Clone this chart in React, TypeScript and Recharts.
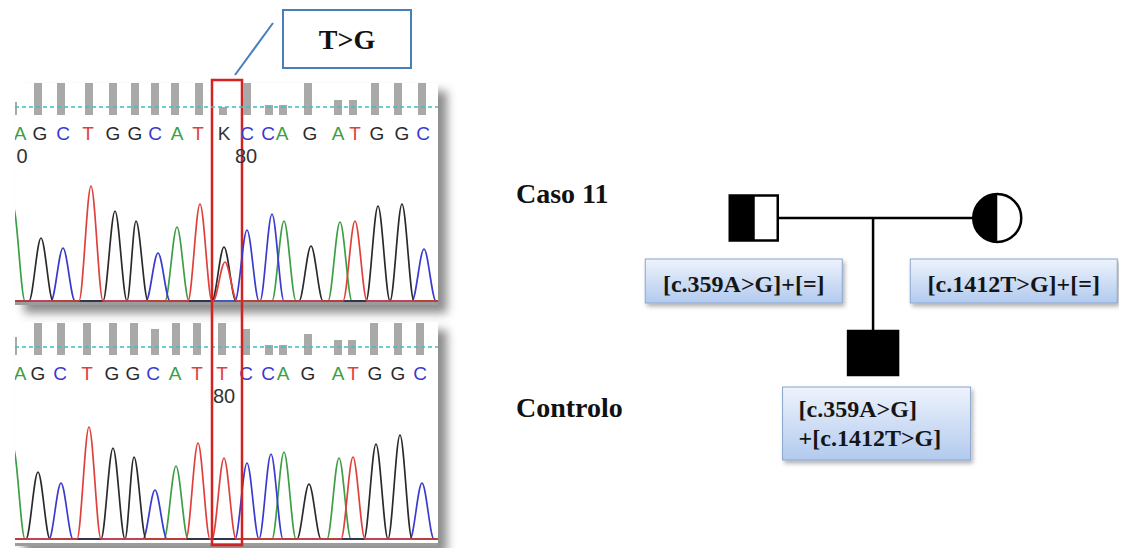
import React from 'react';
import { ComposedChart, Line, Bar, Scatter, XAxis, YAxis, ReferenceLine, ReferenceArea } from 'recharts';

const W = 1130;
const H = 548;
const SERIF = '"Liberation Serif", "Times New Roman", serif';
const SANS = '"Liberation Sans", Arial, sans-serif';

// read position (scan units) range shown in both electropherograms
const X_MIN = 15;
const X_MAX = 438;

// base calls
const casoBases = 'AGCTGGCATKCCAGATGGC'.split('');
const casoBasePos = [20, 40, 63, 88, 113, 135, 155, 177, 198, 224, 247, 268, 282, 310, 338, 355, 377, 402, 423];
const ctrlBases = 'AGCTGGCATTCCAGATGGC'.split('');
const ctrlBasePos = [20, 38, 60, 87, 112, 133, 153, 175, 197, 222, 246, 268, 283, 308, 338, 353, 375, 398, 420];

// quality bars
const casoQualPos = [13, 38, 61, 89, 113, 135, 155, 175, 199, 223, 247, 269, 283, 308, 338, 353, 375, 398, 422];
const casoQual = [13, 32, 32, 32, 32, 32, 32, 32, 32, 8, 32, 10, 10, 32, 15, 15, 32, 32, 32];
const ctrlQualPos = [13, 38, 61, 87, 113, 134, 155, 176, 197, 222, 246, 269, 283, 308, 338, 352, 374, 398, 420];
const ctrlQual = [18, 32, 32, 32, 32, 32, 26, 32, 32, 32, 26, 10, 10, 21, 15, 15, 32, 32, 32];

// base position ruler
const casoMarks = [{ pos: 22, label: '0' }, { pos: 246, label: '80' }];
const ctrlMarks = [{ pos: 224, label: '80' }];

type Peak = { pos: number; h: number };

// peaks per dye, Caso 11
const casoA: Peak[] = [{ pos: 13, h: 95 }, { pos: 177, h: 74 }, { pos: 284, h: 80 }, { pos: 340, h: 79 }];
const casoC: Peak[] = [{ pos: 63, h: 53 }, { pos: 158, h: 48 }, { pos: 247, h: 71 }, { pos: 272, h: 87 }, { pos: 424, h: 52 }];
const casoG: Peak[] = [{ pos: 41, h: 63 }, { pos: 115, h: 90 }, { pos: 136, h: 80 }, { pos: 224, h: 54 }, { pos: 311, h: 55 }, { pos: 378, h: 95 }, { pos: 402, h: 97 }];
const casoT: Peak[] = [{ pos: 91, h: 115 }, { pos: 200, h: 97 }, { pos: 225, h: 39 }, { pos: 355, h: 80 }];

// peaks per dye, Controlo
const ctrlA: Peak[] = [{ pos: 13, h: 92 }, { pos: 176, h: 73 }, { pos: 284, h: 87 }, { pos: 339, h: 81 }];
const ctrlC: Peak[] = [{ pos: 61, h: 56 }, { pos: 155, h: 49 }, { pos: 247, h: 76 }, { pos: 271, h: 85 }, { pos: 422, h: 56 }];
const ctrlG: Peak[] = [{ pos: 38, h: 67 }, { pos: 113, h: 91 }, { pos: 134, h: 82 }, { pos: 309, h: 55 }, { pos: 376, h: 95 }, { pos: 400, h: 104 }];
const ctrlT: Peak[] = [{ pos: 89, h: 112 }, { pos: 198, h: 96 }, { pos: 224, h: 81 }, { pos: 353, h: 82 }];

// pedigree
const members = [
  { id: 'father', sex: 'M', status: 'carrier', x: 0, gen: 1, label: ['[c.359A>G]+[=]'] },
  { id: 'mother', sex: 'F', status: 'carrier', x: 2, gen: 1, label: ['[c.1412T>G]+[=]'] },
  { id: 'child', sex: 'M', status: 'affected', x: 0.98, gen: 2, label: ['[c.359A>G]', '+[c.1412T>G]'] },
];
const marriage = [{ x: 0, gen: 1 }, { x: 2, gen: 1 }];
const descent = [{ x: 0.98, gen: 1 }, { x: 0.98, gen: 2 }];

const DYE: Record<string, string> = { A: '#3d9e45', C: '#3a3ad0', G: '#2a2a2a', T: '#e0403c', K: '#333333' };
const HALF = 12;
const LETTER_ROW = -18;
const NUM_ROW = -41;

const BOX: Record<string, { dx: number; dy: number; w: number; h: number; align: 'middle' | 'start' }> = {
  father: { dx: -10, dy: 63, w: 197, h: 44, align: 'middle' },
  mother: { dx: 16.5, dy: 63, w: 207, h: 44, align: 'middle' },
  child: { dx: 3.5, dy: 70.5, w: 188, h: 73, align: 'start' },
};

function tracePoints(peaks: Peak[]) {
  const pts = [{ pos: X_MIN - 20, v: 0 }];
  peaks.forEach((p) => {
    const last = pts[pts.length - 1].pos;
    if (p.pos - HALF > last) pts.push({ pos: p.pos - HALF, v: 0 });
    pts.push({ pos: p.pos, v: p.h });
    pts.push({ pos: p.pos + HALF, v: 0 });
  });
  pts.push({ pos: X_MAX + 20, v: 0 });
  return pts;
}

const letterShape = (p: any) => (
  <text x={p.cx} y={p.cy} textAnchor="middle" dominantBaseline="central" fontFamily={SANS} fontSize={19} fill={DYE[p.payload.base]}>
    {p.payload.base}
  </text>
);
const markShape = (p: any) => (
  <text x={p.cx} y={p.cy} textAnchor="middle" dominantBaseline="central" fontFamily={SANS} fontSize={20} fill="#333">
    {p.payload.label}
  </text>
);
const qualShape = (p: any) => (
  <rect x={p.x + p.width / 2 - 4} y={p.y} width={8} height={Math.max(0, p.height)} fill="#a9a9a9" />
);

function traceLines(set: Record<string, Peak[]>) {
  return ['A', 'C', 'G', 'T'].map((b) => (
    <Line key={b} yAxisId="t" data={tracePoints(set[b])} dataKey="v" type="monotone" stroke={DYE[b]} strokeWidth={1.7} dot={false} isAnimationActive={false} />
  ));
}

function Electro(props: {
  width: number; height: number; tDomain: [number, number]; qDomain: [number, number];
  qualPos: number[]; qual: number[]; bases: string[]; basePos: number[];
  marks: { pos: number; label: string }[]; dyes: Record<string, Peak[]>; children?: React.ReactNode;
}) {
  const qualData = props.qualPos.map((pos, i) => ({ pos, q: props.qual[i] }));
  const letters = props.bases.map((base, i) => ({ pos: props.basePos[i], base, row: LETTER_ROW }));
  const marks = props.marks.map((m) => ({ ...m, row: NUM_ROW }));
  return (
    <ComposedChart width={props.width} height={props.height} data={qualData} margin={{ top: 0, right: 0, bottom: 0, left: 0 }}>
      <XAxis type="number" dataKey="pos" domain={[X_MIN, X_MAX]} allowDataOverflow hide />
      <YAxis yAxisId="t" type="number" domain={props.tDomain} allowDataOverflow hide />
      <YAxis yAxisId="q" type="number" domain={props.qDomain} allowDataOverflow hide />
      <Bar yAxisId="q" dataKey="q" shape={qualShape} isAnimationActive={false} />
      <ReferenceLine yAxisId="q" y={8} stroke="#3dbfc0" strokeDasharray="4 3" strokeWidth={1.5} />
      {traceLines(props.dyes)}
      <Scatter yAxisId="q" data={letters} dataKey="row" shape={letterShape} isAnimationActive={false} />
      <Scatter yAxisId="q" data={marks} dataKey="row" shape={markShape} isAnimationActive={false} />
      {props.children}
    </ComposedChart>
  );
}

const memberShape = (p: any) => {
  const m = p.payload;
  const { cx, cy } = p;
  const b = BOX[m.id];
  const bx = cx + b.dx - b.w / 2;
  const by = cy + b.dy - b.h / 2;
  let symbol;
  if (m.sex === 'M') {
    const w = m.status === 'affected' ? 50 : 48;
    const h = m.status === 'affected' ? 44 : 45;
    symbol = (
      <g>
        <rect x={cx - w / 2} y={cy - h / 2} width={w} height={h} fill={m.status === 'affected' ? '#000' : '#fff'} stroke="#000" strokeWidth={2.5} />
        {m.status === 'carrier' && <rect x={cx - w / 2} y={cy - h / 2} width={w / 2 + 1} height={h} fill="#000" />}
      </g>
    );
  } else {
    const r = 24;
    symbol = (
      <g>
        <circle cx={cx} cy={cy} r={r} fill="#fff" stroke="#000" strokeWidth={2.5} />
        <path d={`M ${cx} ${cy - r} A ${r} ${r} 0 0 0 ${cx} ${cy + r} Z`} fill="#000" />
      </g>
    );
  }
  const lines: string[] = m.label;
  return (
    <g>
      <defs>
        <linearGradient id={`grad-${m.id}`} x1="0" y1="0" x2="0" y2="1">
          <stop offset="0%" stopColor="#eef3fc" />
          <stop offset="100%" stopColor="#b2caee" />
        </linearGradient>
        <filter id={`sh-${m.id}`} x="-10%" y="-20%" width="130%" height="150%">
          <feDropShadow dx="2" dy="3" stdDeviation="2" floodColor="#000" floodOpacity="0.3" />
        </filter>
      </defs>
      {symbol}
      <rect x={bx} y={by} width={b.w} height={b.h} fill={`url(#grad-${m.id})`} stroke="#8aa6d0" strokeWidth={1} filter={`url(#sh-${m.id})`} />
      {lines.map((t, i) => (
        <text
          key={i}
          x={b.align === 'middle' ? bx + b.w / 2 : bx + 16}
          y={by + b.h / 2 + 3 + (i - (lines.length - 1) / 2) * 29 - (lines.length > 1 ? 3 : 0)}
          textAnchor={b.align}
          dominantBaseline="central"
          fontFamily={SERIF}
          fontWeight={700}
          fontSize={24}
          fill="#151515"
        >
          {t}
        </text>
      ))}
    </g>
  );
};

const panelStyle = (top: number, height: number): React.CSSProperties => ({
  position: 'absolute', left: 15, top, width: 423, height, background: '#fff',
  borderBottom: '3px solid #9c9c9c', boxShadow: '9px 8px 9px rgba(0,0,0,0.45)',
});

const titleStyle = (top: number): React.CSSProperties => ({
  position: 'absolute', left: 516, top, fontFamily: SERIF, fontWeight: 700, fontSize: 28, lineHeight: '28px', color: '#111',
});

export default function App() {
  return (
    <div style={{ position: 'absolute', left: 0, top: 0, width: W, height: H, background: '#fff', overflow: 'hidden', fontFamily: SERIF }}>
      <div style={panelStyle(83, 219)} />
      <div style={panelStyle(322, 221)} />

      <div style={{ position: 'absolute', left: 15, top: 322 }}>
        <Electro
          width={423} height={226} tDomain={[-9, 217]} qDomain={[-193, 33]}
          qualPos={ctrlQualPos} qual={ctrlQual} bases={ctrlBases} basePos={ctrlBasePos} marks={ctrlMarks}
          dyes={{ A: ctrlA, C: ctrlC, G: ctrlG, T: ctrlT }}
        />
      </div>

      <div style={{ position: 'absolute', left: 15, top: 0 }}>
        <Electro
          width={423} height={548} tDomain={[-247, 301]} qDomain={[-433, 115]}
          qualPos={casoQualPos} qual={casoQual} bases={casoBases} basePos={casoBasePos} marks={casoMarks}
          dyes={{ A: casoA, C: casoC, G: casoG, T: casoT }}
        >
          <ReferenceArea yAxisId="q" x1={212} x2={242} y1={-430} y2={35} fill="none" stroke="#d42222" strokeWidth={2.5} ifOverflow="visible" />
          <ReferenceLine yAxisId="q" segment={[{ x: 235, y: 40 }, { x: 273, y: 92 }]} stroke="#4a7ebb" strokeWidth={2} />
          <ReferenceArea
            yAxisId="q" x1={283} x2={411} y1={47} y2={105} fill="#fff" fillOpacity={1} stroke="#4a7ebb" strokeWidth={2}
            label={{ value: 'T>G', position: 'center', fill: '#111', fontSize: 28, fontWeight: 700, fontFamily: SERIF }}
          />
        </Electro>
      </div>

      <div style={titleStyle(180)}>Caso 11</div>
      <div style={titleStyle(394)}>Controlo</div>

      <div style={{ position: 'absolute', left: 632, top: 164 }}>
        <ComposedChart width={487} height={324} margin={{ top: 0, right: 0, bottom: 0, left: 0 }}>
          <XAxis type="number" dataKey="x" domain={[-1, 3]} hide />
          <YAxis type="number" dataKey="gen" domain={[0.6, 3]} reversed hide />
          <Line data={marriage} dataKey="gen" type="linear" stroke="#000" strokeWidth={2.5} dot={false} isAnimationActive={false} />
          <Line data={descent} dataKey="gen" type="linear" stroke="#000" strokeWidth={2.5} dot={false} isAnimationActive={false} />
          <Scatter data={members} dataKey="gen" shape={memberShape} isAnimationActive={false} />
        </ComposedChart>
      </div>
    </div>
  );
}
